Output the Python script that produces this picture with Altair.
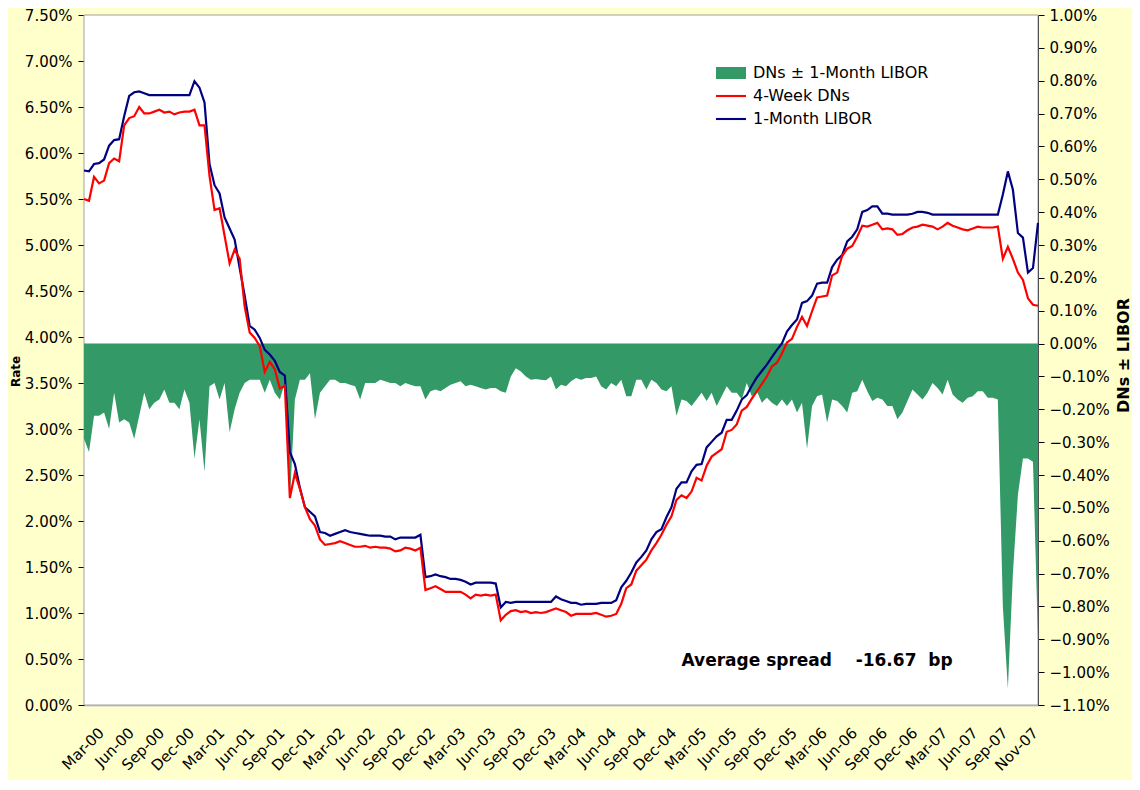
import json
import numpy as np
import pandas as pd
import altair as alt

# ---------------- data (semi-monthly samples) ----------------
step_months = 0.5  # sampling step of the series, in months from the first observation

libor_1m = [
    5.81, 5.80, 5.88, 5.89, 5.93, 6.08, 6.14, 6.15, 6.40, 6.62, 6.66, 6.67, 6.65, 6.63, 6.63, 6.63,
    6.63, 6.63, 6.63, 6.63, 6.63, 6.63, 6.78, 6.71, 6.55, 5.88, 5.65, 5.56, 5.30, 5.18, 5.06, 4.75,
    4.45, 4.12, 4.08, 3.99, 3.86, 3.81, 3.74, 3.62, 3.58, 2.75, 2.62, 2.36, 2.15, 2.10, 2.05, 1.88,
    1.87, 1.84, 1.86, 1.88, 1.90, 1.88, 1.87, 1.86, 1.85, 1.84, 1.84, 1.84, 1.83, 1.83, 1.80, 1.82,
    1.82, 1.82, 1.82, 1.85, 1.39, 1.40, 1.42, 1.40, 1.39, 1.37, 1.37, 1.36, 1.34, 1.31, 1.33, 1.33,
    1.33, 1.33, 1.32, 1.06, 1.12, 1.11, 1.12, 1.12, 1.12, 1.12, 1.12, 1.12, 1.12, 1.12, 1.18, 1.15,
    1.13, 1.11, 1.11, 1.09, 1.10, 1.10, 1.10, 1.11, 1.11, 1.11, 1.14, 1.28, 1.35, 1.44, 1.55, 1.61,
    1.68, 1.80, 1.88, 1.91, 2.04, 2.15, 2.35, 2.42, 2.42, 2.54, 2.61, 2.62, 2.80, 2.86, 2.92,
    2.96, 3.10, 3.10, 3.20, 3.32, 3.37, 3.47, 3.56, 3.63, 3.70, 3.78, 3.86, 3.93, 4.06, 4.13, 4.19,
    4.37, 4.39, 4.45, 4.58, 4.59, 4.59, 4.76, 4.84, 4.89, 5.04, 5.09, 5.17, 5.36, 5.38, 5.42, 5.42,
    5.34, 5.34, 5.33, 5.33, 5.33, 5.33, 5.34, 5.36, 5.36, 5.35, 5.33, 5.33, 5.33, 5.33, 5.33, 5.33,
    5.33, 5.33, 5.33, 5.33, 5.33, 5.33, 5.33, 5.33, 5.55, 5.80, 5.60, 5.13, 5.08, 4.70, 4.75, 5.24,
]

dn_4wk = [
    5.50, 5.48, 5.74, 5.67, 5.70, 5.89, 5.94, 5.91, 6.30, 6.38, 6.40, 6.50, 6.43, 6.43, 6.45, 6.47,
    6.44, 6.45, 6.42, 6.44, 6.45, 6.45, 6.47, 6.30, 6.30, 5.75, 5.38, 5.40, 5.10, 4.80, 4.95, 4.85,
    4.33, 4.05, 3.99, 3.90, 3.62, 3.73, 3.65, 3.44, 3.47, 2.25, 2.52, 2.35, 2.15, 2.02, 1.95, 1.80,
    1.74, 1.75, 1.76, 1.78, 1.76, 1.74, 1.72, 1.72, 1.73, 1.71, 1.72, 1.71, 1.71, 1.70, 1.67, 1.68,
    1.71, 1.70, 1.68, 1.71, 1.25, 1.27, 1.29, 1.26, 1.23, 1.23, 1.23, 1.23, 1.20, 1.16, 1.20, 1.19,
    1.20, 1.19, 1.20, 0.92, 0.98, 1.02, 1.03, 1.01, 1.02, 1.00, 1.01, 1.00, 1.01, 1.03, 1.05, 1.03,
    1.01, 0.97, 0.99, 0.99, 0.99, 0.99, 1.00, 0.98, 0.96, 0.97, 0.99, 1.10, 1.27, 1.31, 1.46, 1.52,
    1.58, 1.68, 1.76, 1.85, 1.96, 2.05, 2.23, 2.28, 2.25, 2.32, 2.47, 2.44, 2.60, 2.70, 2.74,
    2.78, 2.97, 2.99, 3.05, 3.20, 3.24, 3.33, 3.41, 3.49, 3.57, 3.68, 3.72, 3.82, 3.94, 3.98, 4.11,
    4.22, 4.12, 4.28, 4.43, 4.44, 4.45, 4.67, 4.70, 4.88, 4.96, 4.99, 5.09, 5.21, 5.20, 5.22, 5.24,
    5.17, 5.18, 5.17, 5.11, 5.12, 5.16, 5.19, 5.20, 5.22, 5.21, 5.20, 5.17, 5.20, 5.24, 5.21, 5.19,
    5.17, 5.16, 5.18, 5.20, 5.19, 5.19, 5.19, 5.20, 4.85, 4.98, 4.85, 4.70, 4.62, 4.42, 4.35, 4.34,
]

spread = [
    -0.29, -0.33, -0.22, -0.22, -0.21, -0.26, -0.15, -0.24, -0.23, -0.24, -0.29, -0.22, -0.15, -0.20, -0.18, -0.17,
    -0.14, -0.18, -0.18, -0.20, -0.14, -0.18, -0.35, -0.23, -0.39, -0.13, -0.12, -0.17, -0.12, -0.27, -0.20, -0.15,
    -0.12, -0.11, -0.11, -0.11, -0.15, -0.11, -0.15, -0.17, -0.12, -0.48, -0.17, -0.11, -0.11, -0.09, -0.23, -0.15,
    -0.13, -0.11, -0.11, -0.12, -0.12, -0.125, -0.13, -0.17, -0.12, -0.12, -0.12, -0.11, -0.115, -0.12, -0.12, -0.13,
    -0.12, -0.125, -0.13, -0.13, -0.17, -0.145, -0.14, -0.145, -0.135, -0.125,
    -0.12, -0.115, -0.13, -0.125, -0.13, -0.135, -0.14, -0.135, -0.135, -0.145,
    -0.15, -0.10, -0.075, -0.085, -0.10, -0.11, -0.108, -0.11, -0.112, -0.10,
    -0.14, -0.125, -0.13, -0.115, -0.105, -0.11, -0.105, -0.105, -0.10, -0.13,
    -0.14, -0.12, -0.13, -0.11, -0.16, -0.16, -0.11, -0.11, -0.14, -0.11,
    -0.12, -0.14, -0.145, -0.13, -0.22, -0.17, -0.175, -0.19, -0.17, -0.15,
    -0.175, -0.15, -0.19,
    -0.16, -0.13, -0.15, -0.15, -0.17, -0.12, -0.16, -0.145, -0.18, -0.165,
    -0.18, -0.19, -0.17, -0.19, -0.17, -0.21, -0.18, -0.32, -0.19, -0.16,
    -0.155, -0.24, -0.17, -0.175, -0.19, -0.21, -0.15, -0.145, -0.11, -0.145,
    -0.175, -0.165, -0.17, -0.19, -0.19, -0.23, -0.21, -0.175, -0.14, -0.155,
    -0.17, -0.15, -0.12, -0.135, -0.155, -0.11, -0.155, -0.17, -0.18, -0.165,
    -0.16, -0.145, -0.145, -0.165, -0.165, -0.17, -0.80, -1.05, -0.70, -0.46,
    -0.35, -0.35, -0.36, -0.90,
]

x_tick_labels = [
    "Mar-00", "Jun-00", "Sep-00", "Dec-00", "Mar-01", "Jun-01", "Sep-01", "Dec-01",
    "Mar-02", "Jun-02", "Sep-02", "Dec-02", "Mar-03", "Jun-03", "Sep-03", "Dec-03",
    "Mar-04", "Jun-04", "Sep-04", "Dec-04", "Mar-05", "Jun-05", "Sep-05", "Dec-05",
    "Mar-06", "Jun-06", "Sep-06", "Dec-06", "Mar-07", "Jun-07", "Sep-07", "Nov-07",
]
x_tick_step_months = 3

series_names = ["DNs \u00b1 1-Month LIBOR", "4-Week DNs", "1-Month LIBOR"]
average_spread_note = "Average spread\u00a0\u00a0\u00a0\u00a0-16.67\u00a0\u00a0bp"
note_month, note_rate = 59.5, 0.48
rate_domain = [0.0, 7.5]
spread_domain = [-1.1, 1.0]
rate_ticks = [round(0.5 * i, 2) for i in range(16)]            # 0.00% .. 7.50%
spread_ticks = [round(-1.1 + 0.1 * i, 2) for i in range(22)]   # -1.10% .. 1.00%

# ---------------- styles ----------------
GREEN, RED, NAVY = "#339966", "#FF0000", "#000080"
PAGE_BG, PLOT_BG, PLOT_BORDER = "#FFFFCC", "#FFFFFF", "#a0a0a0"
series_colors = [GREEN, RED, NAVY]
legend_shapes = ["M-1,-0.4H1V0.4H-1Z", "M-1,-0.07H1V0.07H-1Z", "M-1,-0.07H1V0.07H-1Z"]
FONT = "DejaVu Sans"

n = len(libor_1m)
months = np.arange(n) * step_months
df = pd.DataFrame({
    "month": months,
    "libor": libor_1m,
    "dn": dn_4wk,
    "spread": spread[:n],
})
x_domain = [float(months[0]), float(months[-1])]

x_values = [x_tick_step_months * i for i in range(len(x_tick_labels))]
label_expr = f"{json.dumps(x_tick_labels)}[round(datum.value / {x_tick_step_months})]"


def x_enc():
    return alt.X(
        "month:Q",
        title=None,
        scale=alt.Scale(domain=x_domain, nice=False, zero=False),
        axis=alt.Axis(
            values=x_values, labelExpr=label_expr, labelAngle=-45, labelAlign="right",
            labelBaseline="top", labelFontSize=15, labelPadding=20, labelOffset=12,
            labelOverlap=False, labelBound=False, labelFlush=False,
            ticks=False, domainColor="#c8c8c8", domainWidth=2, labelColor="black",
            labelFont=FONT, grid=False,
        ),
    )


pct_expr = "format(datum.value, '.2f') + '%'"


def spread_y(field):
    return alt.Y(
        field,
        title="DNs \u00b1 LIBOR",
        scale=alt.Scale(domain=spread_domain, nice=False, zero=False),
        axis=alt.Axis(
            orient="right", values=spread_ticks, labelExpr=pct_expr,
            labelFontSize=15, labelFont=FONT, labelColor="black", labelPadding=5,
            labelOverlap=False,
            tickSize=6, tickColor="black", domainColor="black", grid=False,
            titleFontSize=16, titleFont=FONT, titleFontWeight="bold", titleAngle=-90,
            titleX=85, titleY=340, titleAlign="center", titleBaseline="middle",
            titleColor="black",
        ),
    )


def rate_y(field):
    return alt.Y(
        field,
        title="Rate",
        scale=alt.Scale(domain=rate_domain, nice=False, zero=False),
        axis=alt.Axis(
            orient="left", values=rate_ticks, labelExpr=pct_expr,
            labelFontSize=15, labelFont=FONT, labelColor="black", labelPadding=6,
            labelOverlap=False,
            tickSize=6, tickColor="black", domainColor="black", grid=False,
            titleFontSize=12, titleFont=FONT, titleFontWeight="bold", titleAngle=-90,
            titleX=-69, titleY=356, titleAlign="center", titleBaseline="middle",
            titleColor="black",
        ),
    )


# white plot-area background spanning the scale domains
bg_df = pd.DataFrame({"month": [x_domain[0]], "month_end": [x_domain[1]],
                      "lo": [spread_domain[0]], "hi": [spread_domain[1]]})
plot_bg = alt.Chart(bg_df).mark_rect(
    color=PLOT_BG, fill=PLOT_BG, fillOpacity=1, opacity=1,
    stroke=PLOT_BORDER, strokeWidth=1,
).encode(
    x=x_enc(), x2="month_end:Q", y=spread_y("lo:Q"), y2="hi:Q"
)

area = alt.Chart(df).mark_area(color=GREEN, opacity=1).encode(
    x=x_enc(),
    y=spread_y("spread:Q"),
    y2=alt.Y2Datum(0),
)
right_layer = alt.layer(plot_bg, area)

line_libor = alt.Chart(df).mark_line(color=NAVY, strokeWidth=2.2).encode(
    x=x_enc(), y=rate_y("libor:Q")
)
line_dn = alt.Chart(df).mark_line(color=RED, strokeWidth=2.2).encode(
    x=x_enc(), y=rate_y("dn:Q")
)
note_df = pd.DataFrame({"month": [note_month], "rate": [note_rate], "note": [average_spread_note]})
note = alt.Chart(note_df).mark_text(
    align="left", baseline="middle", fontSize=17, fontWeight="bold", font=FONT, color="black"
).encode(
    x=x_enc(),
    y=rate_y("rate:Q"),
    text="note:N",
)
left_layer = alt.layer(line_libor, line_dn, note)

legend_cfg = alt.Legend(
    title=None, orient="none", legendX=632, legendY=43, padding=0,
    labelFontSize=16, labelFont=FONT, labelColor="black", labelOffset=7,
    symbolSize=900, symbolOpacity=1, symbolStrokeWidth=0, rowPadding=0,
    labelLimit=400,
)
legend_layer = alt.Chart(pd.DataFrame({"series": series_names})).mark_point(
    filled=True, opacity=0, size=900
).encode(
    color=alt.Color("series:N", scale=alt.Scale(domain=series_names, range=series_colors),
                    legend=legend_cfg, sort=series_names),
    shape=alt.Shape("series:N", scale=alt.Scale(domain=series_names, range=legend_shapes),
                    legend=legend_cfg, sort=series_names),
)

chart = alt.layer(right_layer, left_layer, legend_layer).resolve_scale(
    y="independent"
).properties(
    width=954,
    height=690,
    autosize=alt.AutoSizeParams(type="none"),
    padding={"left": 76, "top": 7, "right": 94, "bottom": 75},
    background=PAGE_BG,
).configure_axisX(
    labelOverlap=False
).configure_view(
    fill=PLOT_BG, strokeWidth=0
)

chart.save("out.html", embed_options={"renderer": "svg", "actions": False})
